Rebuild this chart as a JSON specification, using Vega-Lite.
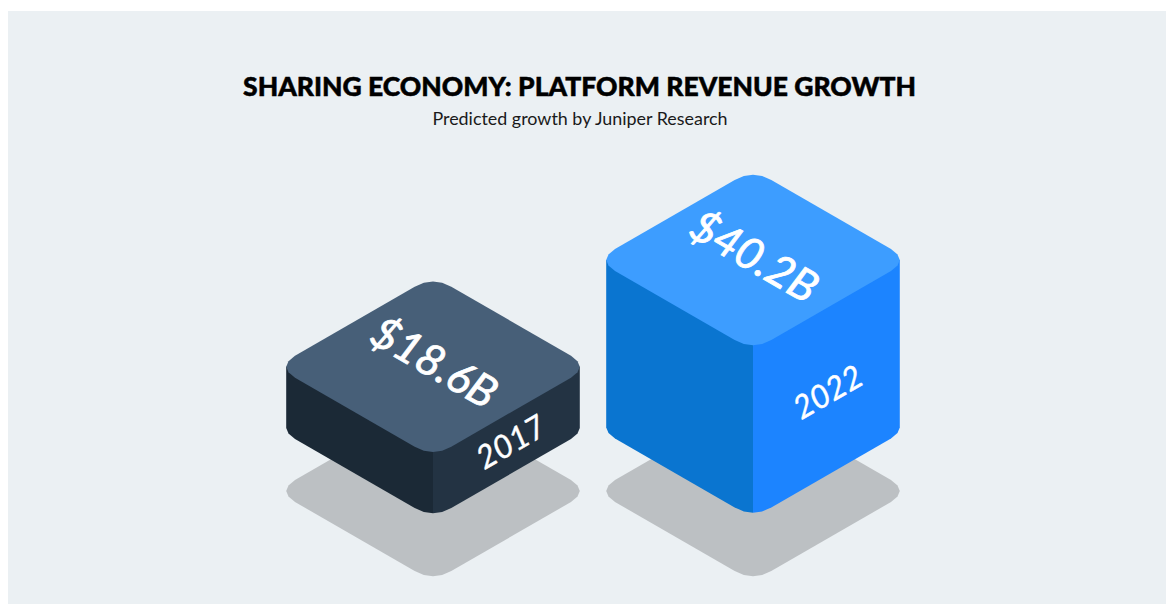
{"$schema":"https://vega.github.io/schema/vega-lite/v6.json","width":1174,"height":605,"padding":0,"autosize":{"type":"none"},"background":"white","config":{"view":{"stroke":null}},
"encoding":{"x":{"field":"x","type":"quantitative","axis":null,"scale":{"domain":[0,1174],"nice":false,"zero":false}},"y":{"field":"y","type":"quantitative","axis":null,"scale":{"domain":[0,605],"reverse":true,"nice":false,"zero":false}}},
"layer":[
{"data":{"values":[{"x":8,"x2":1166,"y":11,"y2":604}]},"mark":{"type":"rect","fill":"#ebf0f3"},"encoding":{"x2":{"field":"x2"},"y2":{"field":"y2"}}},
{"data":{"values":[
{"shape":"shadow2017","face":"shadow","i":0,"x":286.2,"y":491},{"shape":"shadow2017","face":"shadow","i":1,"x":288.5,"y":485.5},{"shape":"shadow2017","face":"shadow","i":2,"x":295,"y":480},{"shape":"shadow2017","face":"shadow","i":3,"x":414.7,"y":411},{"shape":"shadow2017","face":"shadow","i":4,"x":423.85,"y":407},{"shape":"shadow2017","face":"shadow","i":5,"x":433,"y":405.7},{"shape":"shadow2017","face":"shadow","i":6,"x":442.15,"y":407},{"shape":"shadow2017","face":"shadow","i":7,"x":451.3,"y":411},{"shape":"shadow2017","face":"shadow","i":8,"x":571,"y":480},{"shape":"shadow2017","face":"shadow","i":9,"x":577.5,"y":485.5},{"shape":"shadow2017","face":"shadow","i":10,"x":579.8,"y":491},{"shape":"shadow2017","face":"shadow","i":11,"x":577.5,"y":496.5},{"shape":"shadow2017","face":"shadow","i":12,"x":571,"y":502},{"shape":"shadow2017","face":"shadow","i":13,"x":451.3,"y":571},{"shape":"shadow2017","face":"shadow","i":14,"x":442.15,"y":575},{"shape":"shadow2017","face":"shadow","i":15,"x":433,"y":576.3},{"shape":"shadow2017","face":"shadow","i":16,"x":423.85,"y":575},{"shape":"shadow2017","face":"shadow","i":17,"x":414.7,"y":571},{"shape":"shadow2017","face":"shadow","i":18,"x":295,"y":502},{"shape":"shadow2017","face":"shadow","i":19,"x":288.5,"y":496.5},
{"shape":"shadow2022","face":"shadow","i":0,"x":606.2,"y":491},{"shape":"shadow2022","face":"shadow","i":1,"x":608.5,"y":485.5},{"shape":"shadow2022","face":"shadow","i":2,"x":615,"y":480},{"shape":"shadow2022","face":"shadow","i":3,"x":734.7,"y":411},{"shape":"shadow2022","face":"shadow","i":4,"x":743.85,"y":407},{"shape":"shadow2022","face":"shadow","i":5,"x":753,"y":405.7},{"shape":"shadow2022","face":"shadow","i":6,"x":762.15,"y":407},{"shape":"shadow2022","face":"shadow","i":7,"x":771.3,"y":411},{"shape":"shadow2022","face":"shadow","i":8,"x":891,"y":480},{"shape":"shadow2022","face":"shadow","i":9,"x":897.5,"y":485.5},{"shape":"shadow2022","face":"shadow","i":10,"x":899.8,"y":491},{"shape":"shadow2022","face":"shadow","i":11,"x":897.5,"y":496.5},{"shape":"shadow2022","face":"shadow","i":12,"x":891,"y":502},{"shape":"shadow2022","face":"shadow","i":13,"x":771.3,"y":571},{"shape":"shadow2022","face":"shadow","i":14,"x":762.15,"y":575},{"shape":"shadow2022","face":"shadow","i":15,"x":753,"y":576.3},{"shape":"shadow2022","face":"shadow","i":16,"x":743.85,"y":575},{"shape":"shadow2022","face":"shadow","i":17,"x":734.7,"y":571},{"shape":"shadow2022","face":"shadow","i":18,"x":615,"y":502},{"shape":"shadow2022","face":"shadow","i":19,"x":608.5,"y":496.5},
{"shape":"left2017","face":"left2017","i":0,"x":286.2,"y":366.7},{"shape":"left2017","face":"left2017","i":1,"x":286.2,"y":428},{"shape":"left2017","face":"left2017","i":2,"x":288.5,"y":433.5},{"shape":"left2017","face":"left2017","i":3,"x":295,"y":439},{"shape":"left2017","face":"left2017","i":4,"x":414.7,"y":508},{"shape":"left2017","face":"left2017","i":5,"x":423.85,"y":512},{"shape":"left2017","face":"left2017","i":6,"x":433,"y":513.3},{"shape":"left2017","face":"left2017","i":7,"x":433,"y":366.7},
{"shape":"right2017","face":"right2017","i":0,"x":433,"y":366.7},{"shape":"right2017","face":"right2017","i":1,"x":433,"y":513.3},{"shape":"right2017","face":"right2017","i":2,"x":442.15,"y":512},{"shape":"right2017","face":"right2017","i":3,"x":451.3,"y":508},{"shape":"right2017","face":"right2017","i":4,"x":571,"y":439},{"shape":"right2017","face":"right2017","i":5,"x":577.5,"y":433.5},{"shape":"right2017","face":"right2017","i":6,"x":579.8,"y":428},{"shape":"right2017","face":"right2017","i":7,"x":579.8,"y":366.7},
{"shape":"left2022","face":"left2022","i":0,"x":606.2,"y":260},{"shape":"left2022","face":"left2022","i":1,"x":606.2,"y":427.4},{"shape":"left2022","face":"left2022","i":2,"x":608.5,"y":432.9},{"shape":"left2022","face":"left2022","i":3,"x":615,"y":438.4},{"shape":"left2022","face":"left2022","i":4,"x":734.7,"y":507.4},{"shape":"left2022","face":"left2022","i":5,"x":743.85,"y":511.4},{"shape":"left2022","face":"left2022","i":6,"x":753,"y":512.7},{"shape":"left2022","face":"left2022","i":7,"x":753,"y":260},
{"shape":"right2022","face":"right2022","i":0,"x":753,"y":260},{"shape":"right2022","face":"right2022","i":1,"x":753,"y":512.7},{"shape":"right2022","face":"right2022","i":2,"x":762.15,"y":511.4},{"shape":"right2022","face":"right2022","i":3,"x":771.3,"y":507.4},{"shape":"right2022","face":"right2022","i":4,"x":891,"y":438.4},{"shape":"right2022","face":"right2022","i":5,"x":897.5,"y":432.9},{"shape":"right2022","face":"right2022","i":6,"x":899.8,"y":427.4},{"shape":"right2022","face":"right2022","i":7,"x":899.8,"y":260},
{"shape":"top2017","face":"top2017","i":0,"x":286.2,"y":366.7},{"shape":"top2017","face":"top2017","i":1,"x":288.5,"y":361.2},{"shape":"top2017","face":"top2017","i":2,"x":295,"y":355.7},{"shape":"top2017","face":"top2017","i":3,"x":414.7,"y":286.7},{"shape":"top2017","face":"top2017","i":4,"x":423.85,"y":282.7},{"shape":"top2017","face":"top2017","i":5,"x":433,"y":281.4},{"shape":"top2017","face":"top2017","i":6,"x":442.15,"y":282.7},{"shape":"top2017","face":"top2017","i":7,"x":451.3,"y":286.7},{"shape":"top2017","face":"top2017","i":8,"x":571,"y":355.7},{"shape":"top2017","face":"top2017","i":9,"x":577.5,"y":361.2},{"shape":"top2017","face":"top2017","i":10,"x":579.8,"y":366.7},{"shape":"top2017","face":"top2017","i":11,"x":577.5,"y":372.2},{"shape":"top2017","face":"top2017","i":12,"x":571,"y":377.7},{"shape":"top2017","face":"top2017","i":13,"x":451.3,"y":446.7},{"shape":"top2017","face":"top2017","i":14,"x":442.15,"y":450.7},{"shape":"top2017","face":"top2017","i":15,"x":433,"y":452},{"shape":"top2017","face":"top2017","i":16,"x":423.85,"y":450.7},{"shape":"top2017","face":"top2017","i":17,"x":414.7,"y":446.7},{"shape":"top2017","face":"top2017","i":18,"x":295,"y":377.7},{"shape":"top2017","face":"top2017","i":19,"x":288.5,"y":372.2},
{"shape":"top2022","face":"top2022","i":0,"x":606.2,"y":260},{"shape":"top2022","face":"top2022","i":1,"x":608.5,"y":254.5},{"shape":"top2022","face":"top2022","i":2,"x":615,"y":249},{"shape":"top2022","face":"top2022","i":3,"x":734.7,"y":180},{"shape":"top2022","face":"top2022","i":4,"x":743.85,"y":176},{"shape":"top2022","face":"top2022","i":5,"x":753,"y":174.7},{"shape":"top2022","face":"top2022","i":6,"x":762.15,"y":176},{"shape":"top2022","face":"top2022","i":7,"x":771.3,"y":180},{"shape":"top2022","face":"top2022","i":8,"x":891,"y":249},{"shape":"top2022","face":"top2022","i":9,"x":897.5,"y":254.5},{"shape":"top2022","face":"top2022","i":10,"x":899.8,"y":260},{"shape":"top2022","face":"top2022","i":11,"x":897.5,"y":265.5},{"shape":"top2022","face":"top2022","i":12,"x":891,"y":271},{"shape":"top2022","face":"top2022","i":13,"x":771.3,"y":340},{"shape":"top2022","face":"top2022","i":14,"x":762.15,"y":344},{"shape":"top2022","face":"top2022","i":15,"x":753,"y":345.3},{"shape":"top2022","face":"top2022","i":16,"x":743.85,"y":344},{"shape":"top2022","face":"top2022","i":17,"x":734.7,"y":340},{"shape":"top2022","face":"top2022","i":18,"x":615,"y":271},{"shape":"top2022","face":"top2022","i":19,"x":608.5,"y":265.5}
]},
"mark":{"type":"line","strokeWidth":0,"interpolate":"linear-closed"},
"encoding":{"detail":{"field":"shape"},"order":{"field":"i","type":"quantitative"},"fill":{"field":"face","type":"nominal","legend":null,"scale":{"domain":["shadow","left2017","right2017","top2017","left2022","right2022","top2022"],"range":["#bcc0c3","#1b2936","#233343","#475f78","#0a75d0","#1c84ff","#3d9dff"]}}}},
{"data":{"values":[{"text":"SHARING ECONOMY: PLATFORM REVENUE GROWTH","x":579.5,"y":87.5}]},"mark":{"type":"text","font":"Lato","fontWeight":900,"fontSize":26.5,"align":"center","baseline":"middle","color":"#000000","stroke":"#000000","strokeWidth":0.5}, "encoding":{"text":{"field":"text"}}},
{"data":{"values":[{"text":"Predicted growth by Juniper Research","x":580,"y":120}]},"mark":{"type":"text","font":"Lato","fontWeight":400,"fontSize":17.9,"align":"center","baseline":"middle","color":"#1a1a1a"},"encoding":{"text":{"field":"text"}}},
{"data":{"values":[{"text":"$18.6B","x":433.3,"y":364.5},{"text":"$40.2B","x":753.3,"y":258.5}]},"mark":{"type":"text","font":"Lato","fontStyle":"italic","fontSize":44,"angle":30,"align":"center","baseline":"middle","color":"#ffffff","stroke":"#ffffff","strokeWidth":0.8},"encoding":{"text":{"field":"text"}}},
{"data":{"values":[{"text":"2017","x":511.5,"y":443},{"text":"2022","x":828.5,"y":393}]},"mark":{"type":"text","font":"Lato","fontStyle":"italic","fontSize":32,"angle":-30,"align":"center","baseline":"middle","color":"#ffffff","stroke":"#ffffff","strokeWidth":0.4},"encoding":{"text":{"field":"text"}}}
]}
